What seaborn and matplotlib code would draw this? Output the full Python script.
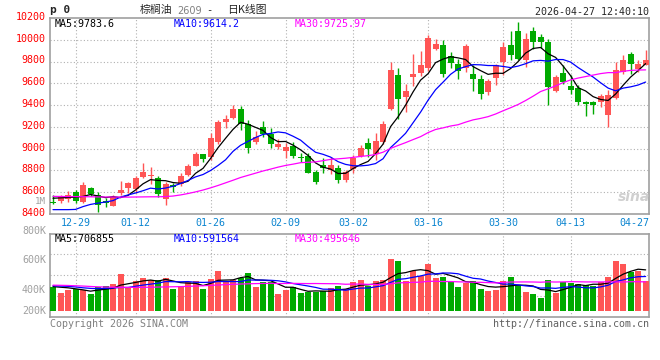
import numpy as np
import pandas as pd
import seaborn as sns
import matplotlib.pyplot as plt
from matplotlib.transforms import ScaledTranslation

# trading days shown on the chart (MM-DD)
dates = ['12-24', '12-25', '12-26', '12-29', '12-30', '12-31',
         '01-05', '01-06', '01-07', '01-08', '01-09', '01-12', '01-13', '01-14', '01-15', '01-16',
         '01-19', '01-20', '01-21', '01-22', '01-23', '01-26', '01-27', '01-28', '01-29', '01-30',
         '02-02', '02-03', '02-04', '02-05', '02-06', '02-09', '02-10', '02-11', '02-12', '02-13',
         '02-24', '02-25', '02-26', '02-27', '03-02', '03-03', '03-04', '03-05', '03-06',
         '03-09', '03-10', '03-11', '03-12', '03-13', '03-16', '03-17', '03-18', '03-19', '03-20',
         '03-23', '03-24', '03-25', '03-26', '03-27', '03-30', '03-31', '04-01', '04-02', '04-03',
         '04-07', '04-08', '04-09', '04-10', '04-13', '04-14', '04-15', '04-16', '04-17',
         '04-20', '04-21', '04-22', '04-23', '04-24', '04-27']

opens = [8505, 8520, 8540, 8606, 8507, 8639, 8575, 8520, 8478, 8597,
         8642, 8627, 8740, 8745, 8728, 8542, 8667, 8673, 8755, 8844,
         8950, 8926, 9063, 9246, 9286, 9362, 9231, 9057, 9200, 9139,
         9011, 8978, 9024, 8922, 8935, 8783, 8850, 8804, 8819, 8713,
         8813, 8932, 9054, 8947, 9063, 9368, 9673, 9475, 9658, 9695,
         9740, 9911, 9948, 9847, 9780, 9740, 9682, 9643, 9521, 9649,
         9795, 9948, 10085, 9810, 10085, 10030, 9984, 9530, 9695, 9573,
         9560, 9429, 9429, 9429, 9307, 9469, 9704, 9871, 9734, 9771]
highs = [8578, 8575, 8612, 8622, 8690, 8652, 8606, 8545, 8575, 8703,
         8697, 8752, 8865, 8828, 8750, 8697, 8688, 8773, 8859, 8972,
         8955, 9140, 9261, 9307, 9399, 9393, 9261, 9161, 9252, 9194,
         9085, 9054, 9063, 8956, 8956, 8804, 8911, 8926, 8850, 8804,
         8941, 9033, 9094, 9140, 9255, 9795, 9743, 9597, 9865, 9896,
         10048, 10009, 9994, 9887, 9826, 9957, 9765, 9673, 9643, 9780,
         9978, 10085, 10167, 10061, 10115, 10054, 10009, 9673, 9765, 9673,
         9582, 9435, 9435, 9506, 9536, 9795, 9862, 9887, 9817, 9902]
lows = [8490, 8505, 8510, 8500, 8500, 8566, 8414, 8460, 8470, 8575,
        8590, 8590, 8728, 8680, 8560, 8484, 8606, 8660, 8750, 8840,
        8880, 8900, 9042, 9194, 9270, 9170, 8962, 9045, 9110, 9008,
        9000, 8911, 8911, 8880, 8773, 8673, 8773, 8767, 8682, 8697,
        8773, 8926, 8926, 8895, 9042, 9353, 9277, 9338, 9576, 9670,
        9713, 9902, 9658, 9743, 9643, 9704, 9527, 9460, 9490, 9582,
        9673, 9810, 9810, 9750, 9917, 9926, 9399, 9520, 9590, 9506,
        9399, 9301, 9316, 9384, 9200, 9460, 9689, 9689, 9704, 9765]
closes = [8497, 8553, 8575, 8515, 8667, 8585, 8485, 8500, 8560, 8621,
          8688, 8734, 8783, 8752, 8585, 8676, 8648, 8749, 8844, 8950,
          8905, 9100, 9246, 9274, 9362, 9231, 9008, 9103, 9133, 9039,
          9039, 9017, 8935, 8918, 8780, 8697, 8819, 8850, 8713, 8789,
          8917, 9002, 8993, 9072, 9225, 9719, 9454, 9527, 9682, 9765,
          10015, 9963, 9689, 9789, 9713, 9939, 9637, 9506, 9618, 9765,
          9933, 9856, 9826, 10009, 9978, 9978, 9567, 9658, 9612, 9536,
          9429, 9414, 9399, 9481, 9490, 9725, 9817, 9774, 9780, 9810]
volumes = [401, 304, 361, 372, 361, 287, 401, 430, 458, 630,
           401, 516, 562, 533, 533, 562, 372, 418, 493, 516,
           372, 550, 688, 516, 533, 562, 647, 401, 487, 487,
           287, 361, 401, 304, 321, 321, 344, 390, 430, 372,
           493, 521, 418, 504, 521, 888, 865, 504, 676, 602,
           802, 562, 573, 493, 401, 476, 504, 372, 332, 350,
           516, 573, 436, 321, 287, 218, 521, 304, 493, 476,
           458, 436, 418, 493, 573, 860, 802, 665, 676, 516]  # thousands

# moving-average values before a full window is available
ma5_head = [8545, 8548, 8552, 8555]
ma10_head = [8440, 8440, 8440, 8442, 8468, 8488, 8500, 8510, 8523]
ma30_head = [8562, 8561, 8560, 8560, 8559, 8558, 8557, 8556, 8556, 8555,
             8555, 8556, 8557, 8558, 8558, 8560, 8565, 8575, 8588, 8603,
             8620, 8640, 8662, 8686, 8710, 8735, 8755, 8775, 8795]
vma5_head = [415, 405, 395, 378]
vma10_head = [430, 425, 420, 410, 395, 385, 380, 385, 392]
vma30_head = [440, 438, 435, 430, 425, 418, 412, 408, 405, 403,
              402, 402, 403, 405, 408, 410, 413, 415, 420, 425,
              430, 437, 443, 450, 455, 460, 464, 467, 470]

price_ticks = [8400, 8600, 8800, 9000, 9200, 9400, 9600, 9800, 10000, 10200]
date_ticks = ['12-29', '01-12', '01-26', '02-09', '03-02', '03-16', '03-30', '04-13', '04-27']

RED = '#FF5555'
GREEN = '#00AA00'
GRID = '#B0B0B0'
FRAME = '#A0A0A0'

df = pd.DataFrame({'i': np.arange(len(dates)), 'date': dates, 'open': opens, 'high': highs,
                   'low': lows, 'close': closes, 'vol': volumes})
df['up'] = df['close'] >= df['open']
df['color'] = np.where(df['up'], RED, GREEN)


def ma(s, n, head):
    out = s.rolling(n).mean()
    out.iloc[:len(head)] = head
    return out


df['ma5'] = ma(df['close'], 5, ma5_head)
df['ma10'] = ma(df['close'], 10, ma10_head)
df['ma30'] = ma(df['close'], 30, ma30_head)
df['vma5'] = ma(df['vol'].astype(float), 5, vma5_head)
df['vma10'] = ma(df['vol'].astype(float), 10, vma10_head)
df['vma30'] = ma(df['vol'].astype(float), 30, vma30_head)

sns.set_style('white')
plt.rcParams['font.family'] = ['DejaVu Sans Mono', 'Noto Sans CJK SC']

W, H = 660, 360
fig = plt.figure(figsize=(6.6, 3.6), dpi=100)


def px(x, y):
    return x / W, 1 - y / H


ax = fig.add_axes([50 / W, 1 - 214 / H, 599 / W, 196 / H])
axv = fig.add_axes([50 / W, 1 - 317.3 / H, 599 / W, 83.8 / H])

# --- candles
ax.vlines(df['i'], df['low'], df['high'], colors=df['color'], lw=1)
body_lo = df[['open', 'close']].min(axis=1)
body_h = (df['close'] - df['open']).abs().clip(lower=9)
ax.bar(df['i'], body_h, bottom=body_lo, width=0.8, color=df['color'], linewidth=0, zorder=3)

sns.lineplot(data=df, x='i', y='ma5', color='black', lw=0.9, ax=ax, zorder=4)
sns.lineplot(data=df, x='i', y='ma10', color='#0000FF', lw=0.9, ax=ax, zorder=4)
sns.lineplot(data=df, x='i', y='ma30', color='#FF00FF', lw=0.9, ax=ax, zorder=4)

# --- volume
sns.barplot(data=df, x='i', y='vol', hue='up', palette={True: RED, False: GREEN},
            native_scale=True, width=0.8, saturation=1, dodge=False, legend=False,
            errorbar=None, linewidth=0, ax=axv, zorder=3)
sns.lineplot(data=df, x='i', y='vma5', color='black', lw=0.9, ax=axv, zorder=4)
sns.lineplot(data=df, x='i', y='vma10', color='#0000FF', lw=0.9, ax=axv, zorder=4)
sns.lineplot(data=df, x='i', y='vma30', color='#FF00FF', lw=0.9, ax=axv, zorder=4)

tick_idx = [dates.index(d) for d in date_ticks]
for a in (ax, axv):
    a.set_xlim(-0.4, len(dates) - 1 + 0.45)
    a.set_xlabel('')
    a.set_ylabel('')
    for s in a.spines.values():
        s.set_color(FRAME)
        s.set_linewidth(1.2)
    for t in tick_idx[:-1]:
        a.axvline(t, color=GRID, lw=0.8, ls=(0, (1, 2)), zorder=1)

ax.set_ylim(8400, 10200)
ax.set_yticks(price_ticks)
ax.set_yticklabels([str(v) for v in price_ticks])
ax.tick_params(axis='y', length=0, pad=3, labelcolor='#FF0000', labelsize=7.2)
up2 = ScaledTranslation(0, 1.5 / 72, fig.dpi_scale_trans)
for lab in ax.get_yticklabels():
    lab.set_transform(lab.get_transform() + up2)
for v in price_ticks[1:-1]:
    ax.axhline(v, color=GRID, lw=0.8, ls=(0, (1, 2)), zorder=1)
ax.set_xticks(tick_idx)
ax.set_xticklabels(date_ticks)
ax.tick_params(axis='x', length=0, pad=3, labelcolor='#0A84D0', labelsize=7.2)
last = ax.get_xticklabels()[-1]
last.set_ha('right')
last.set_transform(last.get_transform() + ScaledTranslation(3 / 72, 0, fig.dpi_scale_trans))

vlo, vhi = -113, 1330
axv.set_ylim(vlo, vhi)
axv.set_yticks([])
axv.set_xticks([])
for f in (0.25, 0.5, 0.75):
    axv.axhline(vlo + f * (vhi - vlo), color=GRID, lw=0.8, ls=(0, (1, 2)), zorder=1)

# --- texts
fs = 7.2
fig.text(*px(50, 10), 'p 0', fontsize=8, weight='bold', va='center', ha='left')
fig.text(*px(140, 10), '棕榈油', fontsize=7.8, va='center', ha='left', family='Noto Sans CJK SC')
fig.text(*px(177, 10.5), '2609', fontsize=7, color='#808080', va='center', ha='left', family='DejaVu Sans')
fig.text(*px(206, 10), '-', fontsize=7.5, va='center', ha='left')
fig.text(*px(227, 10), '日K线图', fontsize=7.8, va='center', ha='left', family='Noto Sans CJK SC')
fig.text(*px(649, 12), '2026-04-27 12:40:10', fontsize=fs, va='center', ha='right')

fig.text(*px(55, 24), 'MA5:9783.6', fontsize=fs, va='center', color='black')
fig.text(*px(174, 24), 'MA10:9614.2', fontsize=fs, va='center', color='#0000FF')
fig.text(*px(295, 24), 'MA30:9725.97', fontsize=fs, va='center', color='#FF00FF')
fig.text(*px(55, 238.5), 'MA5:706855', fontsize=fs, va='center', color='black')
fig.text(*px(174, 238.5), 'MA10:591564', fontsize=fs, va='center', color='#0000FF')
fig.text(*px(295, 238.5), 'MA30:495646', fontsize=fs, va='center', color='#FF00FF')

vol_labels = ['1M', '800K', '600K', '400K', '200K']
vol_sizes = [6.6, fs, fs, fs, fs]
for lab, y, sz in zip(vol_labels, [201.5, 231, 260, 290, 311], vol_sizes):
    fig.text(*px(46, y), lab, fontsize=sz, va='center', ha='right', color='#A0A0A0')

fig.text(*px(634, 197), 'sina', fontsize=10, style='italic', weight='bold', color='#D0D0D0',
         va='center', ha='center', family='DejaVu Sans')
fig.text(*px(50, 324), 'Copyright 2026 SINA.COM', fontsize=fs, va='center', ha='left', color='#808080')
fig.text(*px(649, 324), 'http://finance.sina.com.cn', fontsize=fs, va='center', ha='right', color='#606060')

fig.savefig('out.png', dpi=100)
